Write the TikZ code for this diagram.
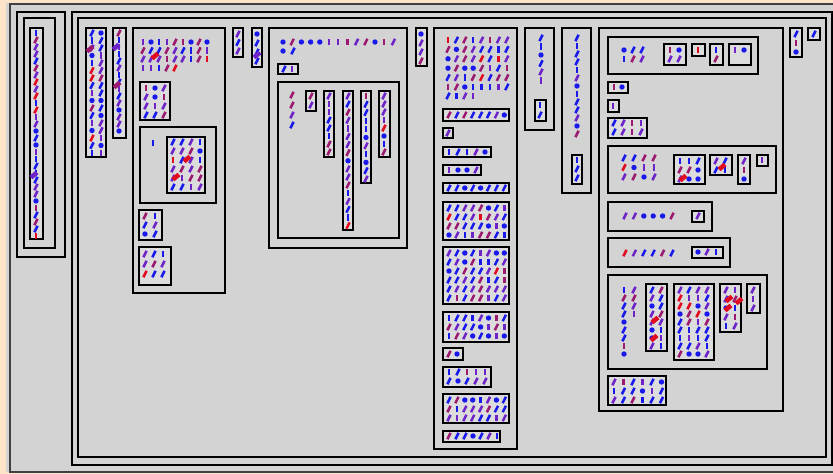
\documentclass[tikz,border=0pt]{standalone}
\usepackage{tikz}

\definecolor{peach}{RGB}{252,228,200}
\definecolor{bggray}{RGB}{211,211,211}
\definecolor{clsgray}{RGB}{220,220,220}
\definecolor{gblue}{RGB}{25,25,235}
\definecolor{gpurple}{RGB}{110,35,200}
\definecolor{gmag}{RGB}{155,25,110}
\definecolor{gred}{RGB}{225,10,30}

% one small member glyph: slash, bar or dot, colour picked at random
\newcommand\glyphat[2]{%
  \pgfmathrandominteger{\gk}{1}{20}%
  \pgfmathrandominteger{\gc}{1}{20}%
  \ifnum\gc<9 \def\gcol{gblue}\else\ifnum\gc<16 \def\gcol{gpurple}\else\ifnum\gc<20 \def\gcol{gmag}\else\def\gcol{gred}\fi\fi\fi
  \ifnum\gk<13 \draw[glyph,draw=\gcol] (#1-1.6,#2+3.2) -- (#1+1.6,#2-3.2);%
  \else\ifnum\gk<18 \draw[glyph,draw=\gcol] (#1,#2-3.2) -- (#1,#2+3.2);%
  \else \fill[gblue] (#1,#2) circle (2.7);\fi\fi}

% grid of glyphs: x0, y0, cols, rows, dx, dy
\newcommand\glyphgrid[6]{%
  \foreach \i in {1,...,#3}{\foreach \j in {1,...,#4}{%
    \pgfmathsetmacro\gx{#1+(\i-1)*#5}\pgfmathsetmacro\gy{#2+(\j-1)*#6}%
    \glyphat{\gx}{\gy}}}}

\newcommand\bigglyph[3]{\draw[bigglyph,draw=#3] (#1-3,#2+2.5) -- (#1+3,#2-2.5);}

\begin{document}
\begin{tikzpicture}[x=1pt,y=-1pt,
    frame/.style={draw=black!75, line width=1.4pt},
    pkg/.style={draw=black, line width=1.8pt, fill=bggray},
    cls/.style={draw=black, line width=2.6pt, fill=clsgray},
    glyph/.style={line width=2.5pt},
    bigglyph/.style={line width=4.5pt}
]
\pgfmathsetseed{12}
\useasboundingbox (0,0) rectangle (833,474);

% Background
\fill[peach] (0,0) rectangle (833,474);
\fill[bggray] (6,3) rectangle (833,472);
\draw[frame] (10,4) rectangle (840,472);

% Left column
\draw[pkg] (17,12) rectangle (65,257);
\draw[pkg] (24,18) rectangle (55,248);
\draw[cls] (30,28) rectangle (43,239);
\glyphgrid{36}{33}{1}{30}{0}{7}
\bigglyph{34}{175}{gpurple}

% Main package
\draw[pkg] (72,12) rectangle (832,465);
\draw[pkg] (78,18) rectangle (826,457);

\draw[cls] (86,28) rectangle (106,157);
\glyphgrid{92}{33}{2}{17}{9}{7.5}
\bigglyph{90}{49}{gmag}
\draw[cls] (113,28) rectangle (126,138);
\glyphgrid{119}{33}{1}{15}{0}{7}
\bigglyph{116}{47}{gpurple}
\bigglyph{117}{85}{gmag}

% Package A
\draw[pkg] (133,28) rectangle (225,293);
\glyphgrid{143}{42}{9}{3}{8}{8.5}
\glyphgrid{143}{68}{5}{1}{8}{0}
\bigglyph{155}{56}{gred}
\draw[cls] (140,82) rectangle (170,120);
\glyphgrid{146}{88}{3}{4}{9}{9}
\draw[pkg] (140,127) rectangle (216,203);
\draw[glyph,gblue] (153,140) -- (153,146);
\draw[cls] (167,137) rectangle (205,193);
\glyphgrid{173}{142}{4}{6}{9}{9}
\bigglyph{187}{159}{gred}
\bigglyph{176}{177}{gred}
\draw[cls] (139,210) rectangle (162,240);
\glyphgrid{145}{216}{2}{3}{10}{9}
\draw[cls] (139,247) rectangle (171,285);
\glyphgrid{145}{254}{3}{3}{9}{10}

\draw[cls] (233,28) rectangle (243,57);
\glyphgrid{238}{34}{1}{3}{0}{8.5}
\draw[cls] (252,28) rectangle (262,67);
\glyphgrid{257}{34}{1}{4}{0}{9}
\bigglyph{257}{55}{gpurple}

% Package B
\draw[pkg] (269,28) rectangle (407,248);
\glyphgrid{283}{42}{13}{1}{9.2}{0}
\glyphgrid{283}{51}{2}{1}{10}{0}
\draw[cls] (278,64) rectangle (298,74);
\glyphgrid{284}{69}{2}{1}{8}{0}
\draw[pkg] (278,82) rectangle (399,238);
\glyphgrid{292}{95}{1}{4}{0}{10}
\draw[cls] (306,91) rectangle (316,111);
\glyphgrid{311}{96}{1}{2}{0}{9}
\draw[cls] (324,91) rectangle (334,157);
\glyphgrid{329}{96}{1}{8}{0}{8}
\draw[cls] (343,91) rectangle (353,230);
\glyphgrid{348}{96}{1}{17}{0}{8.1}
\draw[cls] (361,91) rectangle (371,183);
\glyphgrid{366}{96}{1}{11}{0}{8.3}
\draw[cls] (379,91) rectangle (390,157);
\glyphgrid{384}{96}{1}{8}{0}{8}

\draw[cls] (416,28) rectangle (427,66);
\glyphgrid{421}{34}{1}{4}{0}{9}

% Package C
\draw[pkg] (434,28) rectangle (517,449);
\glyphgrid{448}{40}{8}{6}{8.4}{9.4}
\glyphgrid{448}{96}{4}{1}{8.4}{0}
\draw[cls] (443,109) rectangle (509,121);
\glyphgrid{449}{115}{8}{1}{7.9}{0}
\draw[cls] (443,128) rectangle (453,138);
\glyphgrid{448}{133}{1}{1}{0}{0}
\draw[cls] (443,147) rectangle (491,157);
\glyphgrid{449}{152}{5}{1}{9}{0}
\draw[cls] (443,165) rectangle (481,175);
\glyphgrid{449}{170}{4}{1}{9}{0}
\draw[cls] (443,183) rectangle (509,193);
\glyphgrid{449}{188}{8}{1}{7.9}{0}
\draw[cls] (443,202) rectangle (509,240);
\glyphgrid{449}{208}{8}{4}{7.9}{9}
\draw[cls] (443,247) rectangle (509,304);
\glyphgrid{449}{253}{8}{6}{7.9}{9}
\draw[cls] (443,312) rectangle (509,342);
\glyphgrid{449}{318}{8}{3}{7.9}{9}
\draw[cls] (443,348) rectangle (463,360);
\glyphgrid{449}{354}{2}{1}{8}{0}
\draw[cls] (443,367) rectangle (491,387);
\glyphgrid{449}{372}{5}{2}{9}{9}
\draw[cls] (443,394) rectangle (509,423);
\glyphgrid{449}{400}{8}{3}{7.9}{9}
\draw[cls] (443,431) rectangle (500,442);
\glyphgrid{449}{436}{7}{1}{8}{0}

% Packages D and E
\draw[pkg] (525,28) rectangle (554,130);
\glyphgrid{541}{38}{1}{6}{0}{8.5}
\draw[cls] (535,100) rectangle (546,121);
\glyphgrid{540}{105}{1}{2}{0}{10}
\draw[pkg] (562,28) rectangle (591,193);
\glyphgrid{577}{38}{1}{13}{0}{8}
\draw[cls] (572,155) rectangle (582,184);
\glyphgrid{577}{160}{1}{3}{0}{9}

% Package F
\draw[pkg] (599,28) rectangle (783,411);
\draw[pkg] (608,37) rectangle (758,74);
\glyphgrid{624}{50}{3}{2}{9}{9}
\draw[cls] (664,44) rectangle (686,65);
\glyphgrid{670}{50}{2}{2}{9}{9}
\draw[cls] (692,44) rectangle (705,56);
\glyphgrid{698}{50}{1}{1}{0}{0}
\draw[cls] (710,44) rectangle (723,65);
\glyphgrid{716}{50}{1}{2}{0}{9}
\draw[cls] (729,44) rectangle (751,65);
\glyphgrid{735}{50}{2}{1}{9}{0}
\draw[cls] (608,82) rectangle (628,93);
\glyphgrid{614}{87}{2}{1}{8}{0}
\draw[cls] (608,100) rectangle (619,112);
\glyphgrid{613}{106}{1}{1}{0}{0}
\draw[cls] (608,118) rectangle (647,138);
\glyphgrid{614}{123}{4}{2}{9}{9}

\draw[pkg] (608,146) rectangle (776,193);
\glyphgrid{624}{158}{4}{3}{10}{9.5}
\draw[cls] (674,155) rectangle (705,184);
\glyphgrid{680}{161}{3}{3}{9}{9}
\bigglyph{683}{178}{gred}
\draw[cls] (710,155) rectangle (732,175);
\glyphgrid{716}{161}{2}{2}{9}{9}
\bigglyph{722}{167}{gred}
\draw[cls] (738,155) rectangle (750,184);
\glyphgrid{744}{161}{1}{3}{0}{9}
\draw[cls] (757,155) rectangle (768,166);
\glyphgrid{762}{160}{1}{1}{0}{0}

\draw[pkg] (608,202) rectangle (712,231);
\glyphgrid{625}{216}{6}{1}{9.4}{0}
\draw[cls] (692,211) rectangle (704,222);
\glyphgrid{698}{216}{1}{1}{0}{0}
\draw[pkg] (608,238) rectangle (730,267);
\glyphgrid{625}{253}{6}{1}{9.4}{0}
\draw[cls] (692,247) rectangle (723,258);
\glyphgrid{698}{252}{3}{1}{9}{0}

\draw[pkg] (608,275) rectangle (767,369);
\glyphgrid{624}{290}{1}{9}{0}{8}
\glyphgrid{634}{290}{1}{4}{0}{8}
\draw[cls] (646,284) rectangle (667,351);
\glyphgrid{652}{290}{2}{8}{9}{8}
\bigglyph{655}{320}{gred}
\bigglyph{654}{338}{gred}
\draw[cls] (674,284) rectangle (714,360);
\glyphgrid{680}{290}{4}{9}{9}{8}
\draw[cls] (720,284) rectangle (741,332);
\glyphgrid{726}{290}{2}{5}{9}{9}
\bigglyph{729}{299}{gred}
\bigglyph{739}{301}{gred}
\bigglyph{728}{308}{gred}
\draw[cls] (747,284) rectangle (760,313);
\glyphgrid{753}{290}{1}{3}{0}{9}

\draw[cls] (608,376) rectangle (666,405);
\glyphgrid{614}{382}{6}{3}{9.5}{9}

% Top right
\draw[cls] (790,28) rectangle (802,57);
\glyphgrid{796}{34}{1}{3}{0}{9}
\draw[cls] (808,28) rectangle (820,40);
\glyphgrid{814}{34}{1}{1}{0}{0}

\end{tikzpicture}
\end{document}
